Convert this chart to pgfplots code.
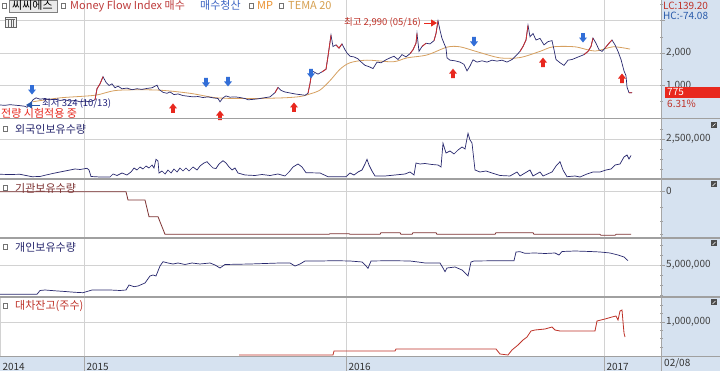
\documentclass[border=0pt]{standalone}
\usepackage{fontspec}
\setmainfont{Noto Sans CJK KR}
\usepackage{pgfplots}
\pgfplotsset{compat=1.18}
\usetikzlibrary{arrows.meta}

\definecolor{strip}{RGB}{214,226,240}
\definecolor{gridc}{RGB}{210,210,210}
\definecolor{sep}{RGB}{160,160,160}
\definecolor{navy}{RGB}{40,40,110}
\definecolor{brn}{RGB}{125,50,50}
\definecolor{redl}{RGB}{190,50,40}
\definecolor{org}{RGB}{214,160,96}
\definecolor{sigred}{RGB}{232,40,30}
\definecolor{sigblue}{RGB}{50,110,215}
\definecolor{candred}{RGB}{205,45,45}

\pgfdeclareplotmark{dnarrow}{%
 \pgfpathmoveto{\pgfqpoint{-1.9pt}{5pt}}%
 \pgfpathlineto{\pgfqpoint{1.9pt}{5pt}}%
 \pgfpathlineto{\pgfqpoint{1.9pt}{0.5pt}}%
 \pgfpathlineto{\pgfqpoint{4pt}{0.5pt}}%
 \pgfpathlineto{\pgfqpoint{0pt}{-4.5pt}}%
 \pgfpathlineto{\pgfqpoint{-4pt}{0.5pt}}%
 \pgfpathlineto{\pgfqpoint{-1.9pt}{0.5pt}}%
 \pgfpathclose\pgfusepathqfill}
\pgfdeclareplotmark{uparrow}{%
 \pgfpathmoveto{\pgfqpoint{-1.9pt}{-5pt}}%
 \pgfpathlineto{\pgfqpoint{1.9pt}{-5pt}}%
 \pgfpathlineto{\pgfqpoint{1.9pt}{-0.5pt}}%
 \pgfpathlineto{\pgfqpoint{4pt}{-0.5pt}}%
 \pgfpathlineto{\pgfqpoint{0pt}{4.5pt}}%
 \pgfpathlineto{\pgfqpoint{-4pt}{-0.5pt}}%
 \pgfpathlineto{\pgfqpoint{-1.9pt}{-0.5pt}}%
 \pgfpathclose\pgfusepathqfill}

\pgfplotsset{panel/.style={scale only axis, width=660pt, xmin=0, xmax=660,
  axis line style={draw=none}, xtick={84,346,604}, xticklabels={},
  xmajorgrids, ymajorgrids, grid style={gridc, line width=0.6pt},
  major x tick style={draw=none}, ytick pos=right, yticklabel pos=right,
  tick align=outside, major tick length=5pt, minor tick length=3pt,
  y tick style={sep, line width=0.5pt}, scaled y ticks=false,
  tick label style={font=\fontsize{10}{10}\selectfont, text=black!75},
  yticklabel style={anchor=west, inner xsep=1pt},
  unbounded coords=jump,
  /pgf/number format/assume math mode=true}}

\newcommand{\tf}{\fontsize{11}{11}\selectfont}
\newcommand{\sq}[2]{\draw[black!55, fill=white, line width=0.5pt] (#1pt,#2pt) rectangle ++(4.5pt,-4.5pt);}
\newcommand{\ico}[1]{\fill[black!70] (711pt,#1pt) rectangle ++(6pt,-6pt); \draw[white, line width=0.5pt] (712.5pt,#1pt-4.5pt) -- (715.5pt,#1pt-1.5pt);}

\begin{document}
\begin{tikzpicture}
\path[use as bounding box] (0pt,0pt) rectangle (720pt,-371pt);
\fill[white] (0pt,0pt) rectangle (720pt,-371pt);
\fill[strip] (661pt,0pt) rectangle (720pt,-371pt);
\fill[strip] (0pt,-356pt) rectangle (720pt,-371pt);

% ---------- Panel 1: price ----------
\begin{axis}[panel, at={(0pt,-118pt)}, anchor=south west, height=118pt,
  ymin=0, ymax=3631, ytick={1000,2000,3000}, yticklabels={1{,}000,2{,}000,{}},
  minor ytick={500,1500,2500,3500}]
\addplot[org, line width=0.8pt, smooth] coordinates {
(33,500)(60,620)(95,700)(117,850)(157,860)(190,760)(217,620)(250,600)(283,620)
(300,660)(310,740)(320,860)(330,1150)(340,1500)(350,1700)(367,1780)(393,1730)
(407,1850)(427,1940)(447,2180)(460,2190)(477,2040)(500,1850)(520,1860)(540,2050)
(553,2190)(575,2190)(595,2060)(613,2190)(630,2120)};
\addplot[navy, line width=0.7pt] coordinates {
(0,400)(5,390)(10,410)(15,395)(20,380)(25,360)(27,330)(30,420)(33,560)(36,620)
(40,580)(45,600)(50,560)(55,580)(60,540)(65,560)(70,520)(75,540)(80,500)(85,520)
(90,500)(95,560)(97,900)(100,1050)(103,1270)(106,1100)(109,1000)(112,1050)(115,930)
(118,980)(122,900)(127,920)(132,870)(137,900)(142,880)(147,910)(152,930)(157,1010)
(159,880)(163,790)(167,760)(170,800)(174,720)(178,740)(183,690)(188,670)(193,650)
(198,660)(203,630)(208,650)(213,620)(218,600)(220,500)(223,620)(226,680)(230,640)
(235,650)(240,630)(245,600)(248,560)(252,570)(258,590)(264,620)(270,650)(275,780)
(278,940)(281,850)(285,800)(290,770)(295,740)(300,720)(305,700)(308,760)(310,1060)
(312,1450)(315,1400)(318,1350)(322,1420)(326,1500)(328,1900)(331,2550)(333,2200)
(336,2250)(339,2150)(342,2280)(345,2100)(347,2000)(350,1900)(354,1880)(358,1820)
(362,1700)(365,1620)(369,1580)(373,1520)(377,1720)(381,1700)(386,1790)(390,1850)
(394,1900)(398,1800)(402,1950)(406,1880)(410,1980)(413,2100)(416,2300)(417,2600)
(419,2050)(422,2200)(426,2300)(430,2280)(434,2380)(436,2600)(438,2990)(440,2700)
(442,2450)(444,2300)(446,2150)(447,1850)(450,1780)(455,1760)(460,1720)(464,1650)
(467,1450)(470,1600)(473,1790)(477,1720)(482,1760)(487,1720)(492,1780)(497,1750)
(502,1780)(507,1720)(512,1800)(517,1950)(520,2050)(523,2200)(526,2400)(528,2850)
(530,2500)(533,2600)(536,2400)(540,2450)(544,2250)(548,2350)(552,2380)(554,2100)
(556,1800)(560,1700)(564,1620)(568,1780)(572,1800)(576,1850)(580,1900)(584,1950)
(588,2050)(591,2200)(593,2460)(596,2300)(599,2100)(602,2050)(605,2150)(609,2300)
(612,2400)(615,2250)(618,2050)(621,1800)(624,1450)(626,1300)(627,950)(629,780)
(632,775)};
\addplot[candred, line width=0.8pt] coordinates {
(95,560)(97,900)(100,1050)(103,1270)(104,nan)
(275,780)(278,940)(279,nan)
(308,760)(310,1060)(312,1450)(313,nan)
(322,1420)(326,1500)(328,1900)(331,2550)(332,nan)
(336,2250)(339,2150)(342,2280)(343,nan)
(410,1980)(413,2100)(416,2300)(417,2600)(418,nan)
(422,2200)(426,2300)(427,nan)
(434,2380)(436,2600)(438,2990)(439,nan)
(520,2050)(523,2200)(526,2400)(528,2850)(529,nan)
(584,1950)(588,2050)(591,2200)(593,2460)(594,nan)
(605,2150)(609,2300)(612,2400)(613,nan)
(629,780)(632,775)};
\addplot[only marks, mark=dnarrow, sigblue] coordinates {
(32,860)(206,1080)(228,1110)(311,1360)(474,2340)(583,2460)};
\addplot[only marks, mark=uparrow, sigred] coordinates {
(173,310)(220,90)(294,340)(453,1380)(543,1720)(622,1230)};
\end{axis}

% ---------- Panel 2 ----------
\begin{axis}[panel, at={(0pt,-179pt)}, anchor=south west, height=59pt,
  ymin=500000, ymax=3450000, ytick={2500000}, yticklabels={2{,}500{,}000},
  minor ytick={1000000,1500000,2000000,3000000}]
\addplot[navy, line width=0.7pt] coordinates {
(0,735000)(10,725000)(20,735000)(32,615000)(40,625000)(46,700000)(55,800000)
(65,900000)(75,1000000)(80,975000)(87,1035000)(89,950000)(91,625000)(100,600000)
(110,600000)(113,750000)(117,675000)(122,800000)(127,700000)(131,850000)(134,1050000)
(137,950000)(140,1100000)(143,1000000)(146,1150000)(149,1050000)(152,1200000)
(154,1050000)(156,1485000)(158,1400000)(159,800000)(162,900000)(165,750000)
(168,950000)(171,800000)(174,1000000)(177,850000)(180,1050000)(183,900000)
(186,1050000)(189,900000)(193,1100000)(197,950000)(200,1150000)(204,1300000)
(207,1365000)(210,1200000)(213,1050000)(216,1025000)(219,1250000)(223,1415000)
(226,1300000)(229,1100000)(232,950000)(235,1050000)(238,800000)(245,700000)
(255,675000)(262,725000)(270,675000)(278,750000)(285,650000)(289,850000)
(293,1100000)(298,1250000)(302,1100000)(306,815000)(320,800000)(328,615000)
(346,615000)(350,800000)(354,700000)(358,850000)(362,950000)(365,1250000)
(367,1485000)(369,1200000)(372,900000)(375,650000)(385,650000)(395,700000)
(405,750000)(410,850000)(414,700000)(416,1300000)(420,1250000)(425,1275000)
(432,1225000)(438,1200000)(441,1100000)(443,2285000)(446,1800000)(450,1900000)
(454,1750000)(458,1950000)(462,2100000)(465,2000000)(468,2785000)(470,2450000)
(472,2300000)(475,950000)(480,850000)(486,900000)(492,800000)(500,675000)
(510,650000)(517,850000)(520,650000)(530,950000)(533,650000)(540,850000)
(543,650000)(552,850000)(556,1150000)(560,1365000)(563,950000)(567,615000)
(575,650000)(580,600000)(587,750000)(593,850000)(600,850000)(606,950000)
(611,1000000)(615,1200000)(620,1250000)(624,1600000)(627,1700000)(629,1500000)
(631,1675000)};
\end{axis}

% ---------- Panel 3 ----------
\begin{axis}[panel, at={(0pt,-238pt)}, anchor=south west, height=59pt,
  ymin=-1410000, ymax=360000, ytick={0}, yticklabels={0},
  minor ytick={-500000,-900000,-1300000}]
\addplot[brn, line width=0.8pt] coordinates {
(0,-20000)(126,-20000)(128,-270000)(145,-270000)(149,-770000)(158,-770000)
(165,-1300000)(329,-1300000)(330,-1280000)(349,-1280000)(350,-1300000)
(380,-1300000)(381,-1250000)(400,-1250000)(401,-1300000)(412,-1300000)
(413,-1250000)(436,-1250000)(437,-1300000)(495,-1300000)(496,-1250000)
(533,-1250000)(534,-1300000)(600,-1300000)(601,-1330000)(615,-1330000)
(616,-1300000)(631,-1300000)};
\end{axis}

% ---------- Panel 4 ----------
\begin{axis}[panel, at={(0pt,-297pt)}, anchor=south west, height=59pt,
  ymin=1800000, ymax=7700000, ytick={5000000}, yticklabels={5{,}000{,}000},
  minor ytick={2000000,3000000,4000000,6000000,7000000}]
\addplot[navy, line width=0.7pt] coordinates {
(0,2070000)(37,2070000)(40,2450000)(45,2500000)(55,2420000)(65,2350000)
(75,2270000)(83,2230000)(92,2500000)(110,2500000)(120,2450000)(126,2500000)
(129,3000000)(134,2830000)(138,2900000)(145,3200000)(150,3900000)(153,4000000)
(156,3900000)(160,4900000)(163,5330000)(168,5200000)(173,5100000)(178,5200000)
(185,5050000)(192,5200000)(200,5100000)(210,5200000)(215,5000000)(220,4700000)
(225,5050000)(235,5070000)(250,5100000)(265,5150000)(280,5200000)(290,5200000)
(295,4900000)(300,5100000)(305,5400000)(320,5400000)(335,5430000)(350,5400000)
(362,5300000)(366,4900000)(368,4670000)(371,5400000)(390,5430000)(410,5400000)
(418,5300000)(425,5200000)(440,5200000)(443,4700000)(445,4330000)(447,4700000)
(455,4800000)(462,4500000)(468,3900000)(471,5300000)(474,5400000)(500,5430000)
(514,5430000)(516,6300000)(520,6330000)(525,6170000)(535,6200000)(545,6150000)
(555,6200000)(559,6000000)(562,6350000)(575,6400000)(590,6350000)(600,6300000)
(610,6200000)(618,6000000)(624,5800000)(628,5430000)};
\end{axis}

% ---------- Panel 5 ----------
\begin{axis}[panel, at={(0pt,-356pt)}, anchor=south west, height=59pt,
  ymin=-20000, ymax=1750000, ytick={1000000}, yticklabels={1{,}000{,}000},
  minor ytick={250000,500000,750000,1250000,1500000},
  xtick={0,84,346,604}, xticklabels={2014,2015,2016,2017},
  xticklabel style={anchor=north west, xshift=-1pt, yshift=1pt, text=black!80}]
\addplot[redl, line width=0.8pt] coordinates {
(239,10000)(333,10000)(334,130000)(395,130000)(396,190000)(496,190000)
(500,40000)(508,10000)(512,160000)(518,310000)(523,460000)(527,550000)
(531,730000)(535,760000)(545,790000)(552,850000)(555,760000)(560,730000)
(595,730000)(597,1030000)(605,1090000)(612,1150000)(616,1180000)(618,1060000)
(620,1330000)(622,1360000)(623,1000000)(624,670000)(625,550000)};
\end{axis}

% ---------- frame and separators ----------
\foreach \yy in {-118.8,-179,-238,-297} {\draw[sep, line width=1.3pt] (0pt,\yy pt) -- (720pt,\yy pt);}
\draw[sep, line width=0.8pt] (0pt,-356pt) -- (720pt,-356pt);
\draw[black!35, line width=0.7pt] (661pt,0pt) -- (661pt,-371pt);
\foreach \xx in {84,346,604} {\draw[black!35, line width=0.6pt] (\xx pt,-356pt) -- (\xx pt,-371pt);}
\node[anchor=north west, inner sep=0pt, font=\fontsize{10}{10}\selectfont, text=black!80] at (664pt,-358pt) {02/08};

% ---------- legend / labels panel 1 ----------
\sq{2}{-3.5}
\draw[black!50, fill=black!8] (9.5pt,-0.3pt) rectangle (57.5pt,-12pt);
\node[anchor=base west, inner sep=0pt, font=\tf] at (12pt,-10pt) {씨씨에스};
\sq{61}{-3.5}
\node[anchor=base west, inner sep=0pt, font=\tf, text={rgb,255:red,190;green,60;blue,60}] at (70pt,-10pt) {Money Flow Index 매수};
\node[anchor=base west, inner sep=0pt, font=\tf, text={rgb,255:red,60;green,100;blue,195}] at (200pt,-10pt) {매수청산};
\sq{249}{-3.5}
\node[anchor=base west, inner sep=0pt, font=\tf, text={rgb,255:red,235;green,145;blue,45}] at (257pt,-10pt) {MP};
\sq{279}{-3.5}
\node[anchor=base west, inner sep=0pt, font=\tf, text={rgb,255:red,214;green,160;blue,80}] at (288pt,-10pt) {TEMA 20};
\draw[black!60, fill=black!5, line width=0.5pt] (5pt,-17pt) rectangle (16pt,-27pt);
\draw[black!60, line width=0.4pt] (6pt,-19.5pt) -- (15pt,-19.5pt) (8.5pt,-19.5pt) -- (8.5pt,-27pt) (11pt,-19.5pt) -- (11pt,-27pt) (13.5pt,-19.5pt) -- (13.5pt,-27pt);

\node[anchor=east, inner sep=0pt, font=\fontsize{9.5}{9.5}\selectfont, text=redl] at (421pt,-23pt) {최고 2,990 (05/16)};
\draw[sigred, line width=0.8pt, -{Triangle[length=6pt,width=7pt]}] (424pt,-23pt) -- (437pt,-23pt);
\draw[sigblue!80!black, line width=0.8pt, -{Triangle[length=6pt,width=7pt]}] (40pt,-105pt) -- (26pt,-105pt);
\node[anchor=west, inner sep=0pt, font=\fontsize{9.5}{9.5}\selectfont, text={rgb,255:red,30;green,30;blue,120}] at (42pt,-104pt) {최저 324 (10/13)};
\node[anchor=west, inner sep=0pt, font=\tf, text=sigred] at (1pt,-113pt) {전량 시험적용 중};

% right strip texts
\node[anchor=west, inner sep=0pt, font=\fontsize{10}{10}\selectfont, text=redl] at (663pt,-6pt) {LC:139.20};
\node[anchor=west, inner sep=0pt, font=\fontsize{10}{10}\selectfont, text={rgb,255:red,40;green,90;blue,170}] at (663pt,-16pt) {HC:-74.08};
\fill[sigred] (665pt,-87pt) rectangle (720pt,-98pt);
\node[anchor=west, inner sep=0pt, font=\fontsize{10}{10}\selectfont, text=white] at (667pt,-92.5pt) {775};
\node[anchor=west, inner sep=0pt, font=\fontsize{10}{10}\selectfont, text=redl] at (667pt,-103.5pt) {6.31\%};

% panel titles
\sq{3}{-126.5}
\node[anchor=west, inner sep=0pt, font=\tf, text=navy] at (15pt,-129pt) {외국인보유수량};
\sq{3}{-185.5}
\node[anchor=west, inner sep=0pt, font=\tf, text=brn] at (15pt,-188pt) {기관보유수량};
\sq{3}{-244.5}
\node[anchor=west, inner sep=0pt, font=\tf, text=navy] at (15pt,-247pt) {개인보유수량};
\sq{3}{-303.5}
\node[anchor=west, inner sep=0pt, font=\tf, text=redl] at (15pt,-306pt) {대차잔고(주수)};
\ico{-122}
\ico{-181.5}
\ico{-240.5}
\ico{-299.5}
\end{tikzpicture}
\end{document}
